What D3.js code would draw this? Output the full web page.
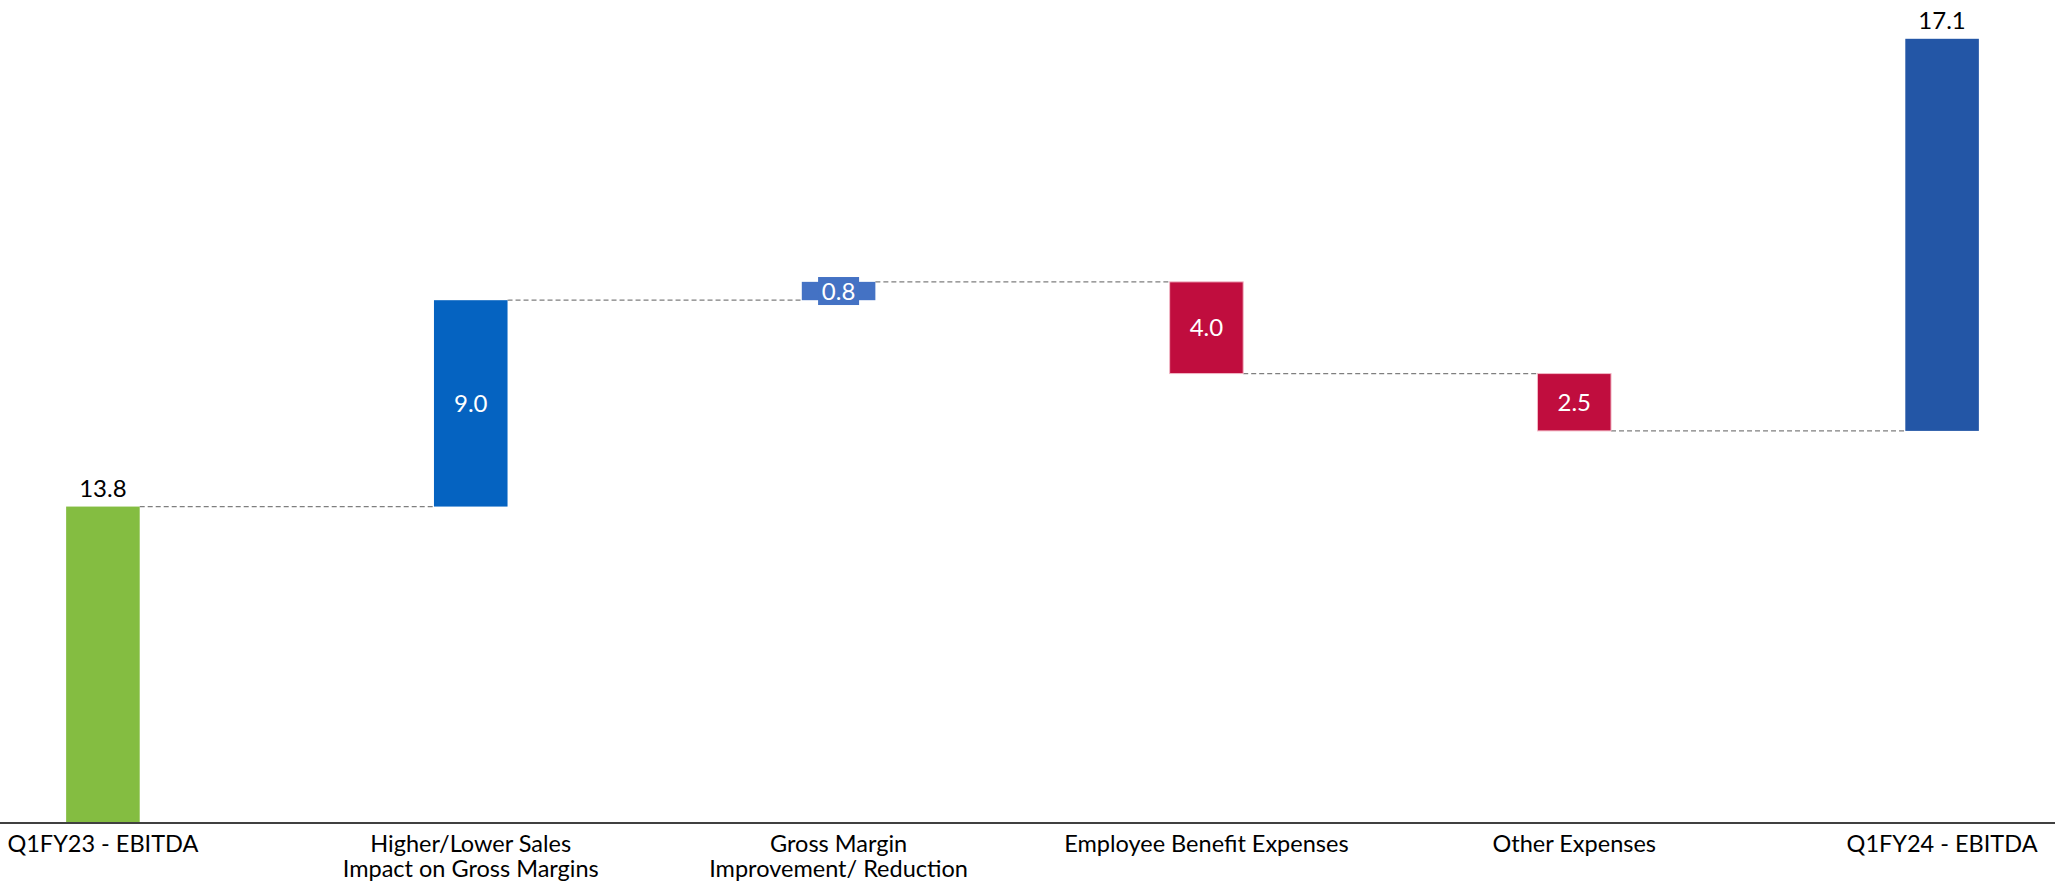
<!DOCTYPE html>
<html>
<head>
<meta charset="utf-8">
<script src="https://cdn.jsdelivr.net/npm/d3@7"></script>
<style>
    html, body { margin: 0; padding: 0; background: #fff; }
    text { font-family: Lato, "Open Sans", sans-serif; }
</style>
</head>
<body>
<svg id="canvas"></svg>
<script>
const categories = [
    ["Q1FY23 - EBITDA"],
    ["Higher/Lower Sales", "Impact on Gross Margins"],
    ["Gross Margin", "Improvement/ Reduction"],
    ["Employee Benefit Expenses"],
    ["Other Expenses"],
    ["Q1FY24 - EBITDA"]
];
const values = [13.8, 9.0, 0.8, -4.0, -2.5, 17.1];
const kinds = ["total", "delta", "delta", "delta", "delta", "total"];
const colors = ["#84BD41", "#0563C1", "#4472C4", "#C00D3E", "#C00D3E", "#2356A6"];

const width = 2055;
const height = 890;
const axisY = 823;

// running totals -> floating bars (the last total sits on the running level, as in the source)
let running = 0;
const bars = values.map((v, i) => {
    let lo, hi;
    if (kinds[i] === "total") {
        lo = running === 0 ? 0 : running;
        hi = lo + v;
        if (running === 0) running = v;
    } else {
        lo = Math.min(running, running + v);
        hi = Math.max(running, running + v);
        running += v;
    }
    return { i, v, lo, hi, end: running, kind: kinds[i], color: colors[i] };
});

const svg = d3.select("#canvas")
    .attr("width", width)
    .attr("height", height);

const scaleX = d3.scaleBand()
    .domain(d3.range(categories.length))
    .range([-81, 2126])
    .paddingInner(0.8)
    .paddingOuter(0.4);
const scaleY = d3.scaleLinear()
    .domain([0, 35])
    .range([axisY, axisY - 35 * 22.93]);

// connectors
const links = bars.slice(0, -1).map(b => ({
    x1: scaleX(b.i) + scaleX.bandwidth(),
    x2: scaleX(b.i + 1),
    y: scaleY(b.kind === "total" ? b.hi : b.end)
}));
svg.append("g").selectAll("line")
    .data(links)
    .join("line")
    .attr("x1", d => d.x1)
    .attr("x2", d => d.x2)
    .attr("y1", d => d.y)
    .attr("y2", d => d.y)
    .attr("stroke", "#7f7f7f")
    .attr("stroke-width", 1.2)
    .attr("stroke-dasharray", "5,3");

// bars
svg.append("g").selectAll("rect")
    .data(bars)
    .join("rect")
    .attr("x", d => scaleX(d.i))
    .attr("width", scaleX.bandwidth())
    .attr("y", d => scaleY(d.hi))
    .attr("height", d => scaleY(d.lo) - scaleY(d.hi))
    .attr("fill", d => d.color)
    .attr("stroke", d => d.v < 0 ? "#f2b8c6" : "none")
    .attr("stroke-width", 1);

// axis
const axis = svg.append("g").attr("transform", `translate(0, ${axisY})`)
    .call(d3.axisBottom(scaleX).tickSize(0).tickFormat(""));
axis.select(".domain").attr("stroke", "#404040").attr("stroke-width", 2.2)
    .attr("d", `M0,0H${width}`);

// category labels
const catG = svg.append("g");
categories.forEach((lines, i) => {
    const t = catG.append("text")
        .attr("x", scaleX(i) + scaleX.bandwidth() / 2)
        .attr("y", 852)
        .attr("text-anchor", "middle")
        .attr("font-size", 23.5)
        .attr("fill", "#000");
    lines.forEach((l, j) => {
        t.append("tspan")
            .attr("x", scaleX(i) + scaleX.bandwidth() / 2)
            .attr("dy", j === 0 ? 0 : 25)
            .text(l);
    });
});

// value labels
const fmt = d3.format(".1f");
const labG = svg.append("g");
bars.forEach(b => {
    const cx = scaleX(b.i) + scaleX.bandwidth() / 2;
    if (b.kind === "total") {
        labG.append("text")
            .attr("x", cx)
            .attr("y", scaleY(b.hi) - 10)
            .attr("text-anchor", "middle")
            .attr("font-size", 24)
            .attr("fill", "#000")
            .text(fmt(Math.abs(b.v)));
    } else {
        const cy = (scaleY(b.lo) + scaleY(b.hi)) / 2;
        labG.append("text")
            .attr("x", cx)
            .attr("y", cy)
            .attr("dy", "0.36em")
            .attr("text-anchor", "middle")
            .attr("font-size", 24)
            .attr("fill", "#fff")
            .text(fmt(Math.abs(b.v)));
        // small bar: label gets a box in the bar colour
        if (scaleY(b.lo) - scaleY(b.hi) < 26) {
            labG.insert("rect", "text")
                .attr("x", cx - 20.5)
                .attr("width", 41)
                .attr("y", cy - 14)
                .attr("height", 28)
                .attr("fill", b.color);
        }
    }
});
</script>
</body>
</html>
